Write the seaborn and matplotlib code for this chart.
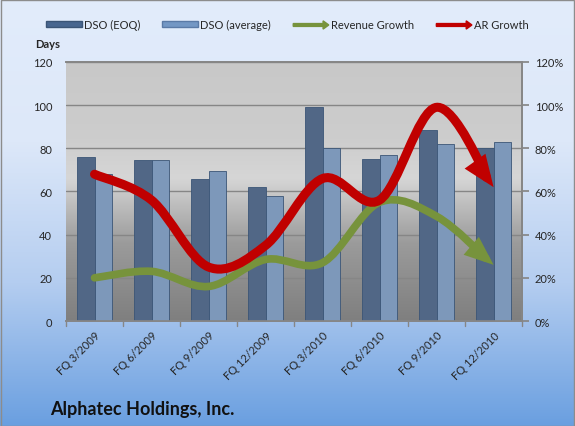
import numpy as np
import pandas as pd
import matplotlib
matplotlib.use("Agg")
import matplotlib.pyplot as plt
import seaborn as sns
from matplotlib.path import Path
from matplotlib.patches import FancyArrowPatch, ArrowStyle, Patch, Rectangle, FancyArrow
from matplotlib.colors import LinearSegmentedColormap
from matplotlib.legend_handler import HandlerPatch

# data
quarters = ["FQ 3/2009", "FQ 6/2009", "FQ 9/2009", "FQ 12/2009",
            "FQ 3/2010", "FQ 6/2010", "FQ 9/2010", "FQ 12/2010"]
dso_eoq = [76, 74.5, 66, 62, 99, 75, 88.5, 80]
dso_avg = [68, 74.5, 69.5, 58, 80, 77, 82, 83]
revenue_growth = [20, 23, 16, 28.5, 27, 55, 48.5, 26]
ar_growth = [68, 56, 25, 35, 66, 56, 99, 62]

days_ticks = [0, 20, 40, 60, 80, 100, 120]
pct_ticks = [0, 20, 40, 60, 80, 100, 120]

C_EOQ = "#48668f"
C_AVG = "#7397c4"
C_REV = "#77933c"
C_AR = "#c00000"

sns.set_theme(style="white")
plt.rcParams['font.family'] = ['Lato', 'DejaVu Sans']


def smooth_path(xs, ys, k=1/6):
    # Excel-like smoothed line: Catmull-Rom segments as cubic Bezier
    pts = np.column_stack([xs, ys]).astype(float)
    ext = np.vstack([pts[0], pts, pts[-1]])
    verts = [pts[0]]
    codes = [Path.MOVETO]
    for i in range(len(pts) - 1):
        p0, p1, p2, p3 = ext[i], ext[i + 1], ext[i + 2], ext[i + 3]
        verts += [p1 + (p2 - p0) * k, p2 - (p3 - p1) * k, p2]
        codes += [Path.CURVE4] * 3
    return Path(verts, codes)


fig = plt.figure(figsize=(5.75, 4.27), dpi=100)

# figure background gradient
bg = fig.add_axes([0, 0, 1, 1], zorder=-10)
bg_cmap = LinearSegmentedColormap.from_list("bg", ["#6a9fe0", "#b4cdf0", "#dde8f9", "#e2ecfb"])
bg.imshow(np.linspace(0, 1, 256).reshape(-1, 1), aspect="auto", cmap=bg_cmap,
          origin="lower", extent=[0, 1, 0, 1])
bg.set_axis_off()
fig.patches.append(Rectangle((0.001, 0.001), 0.997, 0.997, transform=fig.transFigure,
                             fill=False, ec="#8c8c8c", lw=1))

ax = fig.add_axes([0.1148, 0.2459, 0.7932, 0.6066])

df = pd.DataFrame({
    "quarter": quarters * 2,
    "days": dso_eoq + dso_avg,
    "series": ["DSO (EOQ)"] * len(quarters) + ["DSO (average)"] * len(quarters),
})
sns.barplot(data=df, x="quarter", y="days", hue="series", order=quarters,
            palette=[C_EOQ, C_AVG], width=0.62, ax=ax, legend=False,
            edgecolor="#3b5576", linewidth=0.6, zorder=3)
for b in ax.patches:
    b.set_zorder(3)

ax.set_xlim(-0.5, len(quarters) - 0.5)
ax.set_ylim(0, 120)
ax.set_yticks(days_ticks)
ax.set_yticklabels([str(t) for t in days_ticks], fontsize=8)
ax.set_xlabel("")
ax.set_ylabel("")

# plot area gradient
grad_cmap = LinearSegmentedColormap.from_list(
    "pa", [(0, "#7f7f7f"), (0.3, "#9b9b9b"), (0.55, "#d6d6d6"), (0.7, "#cdcdcd"), (1, "#c8c8c8")])
ax.imshow(np.linspace(0, 1, 256).reshape(-1, 1), aspect="auto", cmap=grad_cmap,
          origin="lower", extent=[-0.5, len(quarters) - 0.5, 0, 120], zorder=0)
ax.set_xlim(-0.5, len(quarters) - 0.5)
ax.set_ylim(0, 120)
for t in days_ticks[1:]:
    ax.axhline(t, color="#868686", lw=1, zorder=1)

ax.set_xticks(range(len(quarters)))
ax.set_xticklabels(quarters, rotation=45, ha="right", rotation_mode="anchor", fontsize=8)
ax.tick_params(axis="x", length=0, pad=6)
for xb in np.arange(-0.5, len(quarters), 1):
    ax.plot([xb, xb], [0, -2.5], color="#868686", lw=1, clip_on=False, zorder=2)
ax.tick_params(axis="y", length=0, pad=10)
for s in ["left", "top", "right", "bottom"]:
    ax.spines[s].set_color("#868686")
ax.spines["left"].set_visible(False)

ax.text(-0.04, 1.05, "Days", transform=ax.transAxes, ha="center", va="bottom",
        fontsize=8, fontweight="bold")

# secondary axis for growth rates
ax2 = ax.twinx()
ax2.set_ylim(0, 120)
ax2.set_yticks(pct_ticks)
ax2.set_yticklabels([f"{t}%" for t in pct_ticks], fontsize=8)
ax2.tick_params(axis="y", length=5, color="#868686", pad=4, direction="out")
for s in ["left", "top", "right", "bottom"]:
    ax2.spines[s].set_color("#868686")
ax2.spines["left"].set_visible(False)

xs = np.arange(len(quarters))
for vals, col, lw in [(revenue_growth, C_REV, 5.5), (ar_growth, C_AR, 6.5)]:
    arr = FancyArrowPatch(path=smooth_path(xs, vals),
                          arrowstyle=ArrowStyle("-|>", head_length=0.55, head_width=0.22),
                          mutation_scale=20, color=col, lw=lw, capstyle="round",
                          joinstyle="miter", transform=ax2.transData, zorder=5)
    ax2.add_patch(arr)


class ArrowHandler(HandlerPatch):
    def create_artists(self, legend, orig_handle, xdescent, ydescent, width, height, fontsize, trans):
        a = FancyArrow(0, height / 2, width, 0, width=height * 0.45, head_width=height * 1.3,
                       head_length=height * 0.9, length_includes_head=True,
                       color=orig_handle.get_facecolor(), transform=trans)
        return [a]


handles = [Patch(facecolor=C_EOQ, edgecolor="#3b5576"),
           Patch(facecolor=C_AVG, edgecolor="#5a7aa6"),
           Patch(facecolor=C_REV), Patch(facecolor=C_AR)]
labels = ["DSO (EOQ)", "DSO (average)", "Revenue Growth", "AR Growth"]
fig.legend(handles, labels, loc="center", bbox_to_anchor=(0.5, 0.94), ncol=4,
           frameon=False, fontsize=8, handlelength=3.2, handleheight=0.5,
           columnspacing=2.0, handletextpad=0.2,
           handler_map={handles[2]: ArrowHandler(), handles[3]: ArrowHandler()})

fig.text(0.087, 0.022, "Alphatec Holdings, Inc.", fontsize=13, fontweight="bold",
         ha="left", va="bottom", color="#111111")

fig.savefig("out.png", dpi=100)
